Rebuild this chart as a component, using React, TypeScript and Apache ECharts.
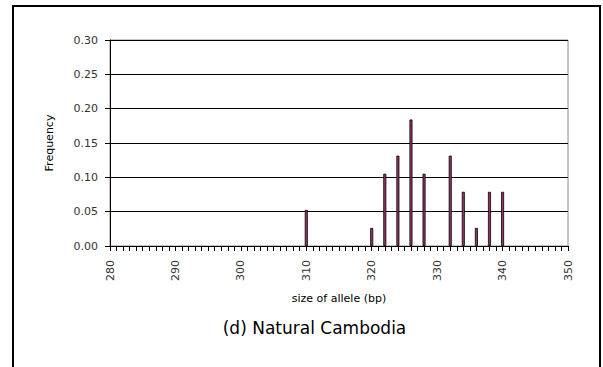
import React, { useEffect, useRef } from "react";
import * as echarts from "echarts";

const alleleSizes = [310, 320, 322, 324, 326, 328, 332, 334, 336, 338, 340];
const frequencies = [0.0526, 0.0263, 0.1053, 0.1316, 0.1842, 0.1053, 0.1316, 0.0789, 0.0263, 0.0789, 0.0789];
const xRange = [280, 350];
const yRange = [0, 0.3];
const titleText = "(d) Natural Cambodia";
const xTitle = "size of allele (bp)";
const yTitle = "Frequency";

const FONT = "'DejaVu Sans', 'Liberation Sans', Arial, sans-serif";

export default function App() {
  const ref = useRef<HTMLDivElement>(null);
  useEffect(() => {
    if (!ref.current) return;
    const chart = echarts.init(ref.current, undefined, { renderer: "svg" });
    chart.setOption({
      animation: false,
      backgroundColor: "#fff",
      textStyle: { fontFamily: FONT },
      grid: {
        left: 110,
        top: 40,
        width: 458,
        height: 206,
        show: true,
        borderColor: "#8c8c8c",
        borderWidth: 1,
        backgroundColor: "transparent",
      },
      xAxis: {
        type: "value",
        min: xRange[0],
        max: xRange[1],
        interval: 10,
        name: xTitle,
        nameLocation: "middle",
        nameGap: 47,
        nameTextStyle: { fontFamily: FONT, fontSize: 11, color: "#000" },
        axisLine: { show: true, lineStyle: { color: "#000", width: 1 } },
        axisTick: { show: true, length: 5, lineStyle: { color: "#000" } },
        minorTick: { show: true, splitNumber: 10, length: 5, lineStyle: { color: "#000" } },
        splitLine: { show: false },
        minorSplitLine: { show: false },
        axisLabel: {
          rotate: 90,
          fontFamily: FONT,
          fontSize: 11,
          color: "#333",
          margin: 14,
        },
      },
      yAxis: {
        type: "value",
        min: yRange[0],
        max: yRange[1],
        interval: 0.05,
        name: yTitle,
        nameLocation: "middle",
        nameGap: 55,
        nameRotate: 90,
        nameTextStyle: { fontFamily: FONT, fontSize: 11, color: "#000" },
        axisLine: { show: true, lineStyle: { color: "#000", width: 1 } },
        axisTick: { show: true, length: 5, lineStyle: { color: "#000" } },
        splitLine: { show: true, lineStyle: { color: "#000", width: 1 } },
        axisLabel: {
          fontFamily: FONT,
          fontSize: 11,
          color: "#333",
          margin: 12,
          formatter: (v: number) => v.toFixed(2),
        },
      },
      series: [
        {
          type: "bar",
          barWidth: 3,
          data: alleleSizes.map((s, i) => [s, frequencies[i]]),
          itemStyle: { color: "#993366", borderColor: "#000", borderWidth: 0.8 },
        },
      ],
      graphic: [
        {
          type: "rect",
          shape: { x: 13, y: 6, width: 587, height: 400 },
          style: { fill: "none", stroke: "#000", lineWidth: 2 },
          silent: true,
        },
        {
          type: "text",
          x: 314.5,
          y: 328,
          style: {
            text: titleText,
            fontFamily: FONT,
            fontSize: 17,
            fill: "#000",
            textAlign: "center",
            textVerticalAlign: "middle",
          },
        },
      ],
    });
    return () => chart.dispose();
  }, []);
  return (
    <div
      ref={ref}
      style={{ position: "fixed", left: 0, top: 0, width: 603, height: 367 }}
    />
  );
}
